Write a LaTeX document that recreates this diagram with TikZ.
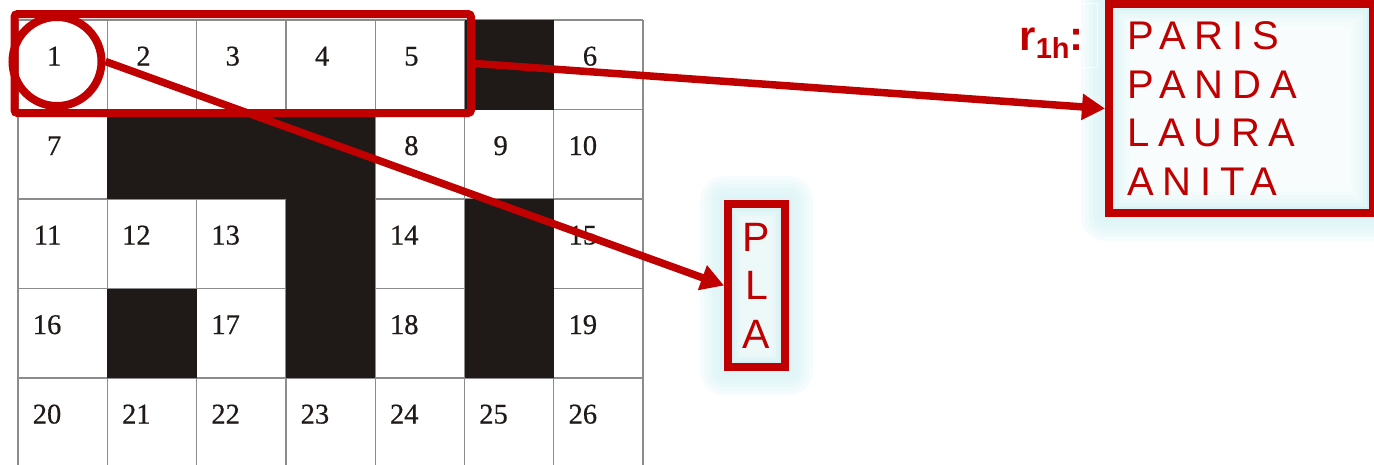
\documentclass[tikz,border=0pt]{standalone}
\usepackage{fontspec}
\setmainfont{Liberation Serif}
\newfontfamily\numfont[FakeBold=0.6]{Liberation Serif}
\newfontfamily\boxfont[LetterSpace=22]{Liberation Sans}
\newfontfamily\plafont{Liberation Sans}
\newfontfamily\labelfont{Liberation Sans}
\usetikzlibrary{arrows.meta,calc,backgrounds}
\definecolor{pzred}{HTML}{C00000}
\definecolor{pzblack}{HTML}{1F1A17}
\definecolor{pzgrid}{HTML}{8C8C8C}
\definecolor{pzglow}{HTML}{D6F1F4}

\begin{document}
\begin{tikzpicture}[
    x=1pt, y=-1pt,
    cellline/.style={draw=pzgrid, line width=1.3pt},
    blackcell/.style={fill=pzblack},
    cellnum/.style={anchor=base east, inner sep=0pt, font=\numfont\fontsize{28.5}{28.5}\selectfont, text=pzblack},
    redframe/.style={draw=pzred, line width=8pt},
    redarrow/.style={draw=pzred, line width=7.5pt, -{Triangle[length=23pt,width=25pt]}},
    wordbox/.style={redframe, inner sep=0pt, text=pzred},
    glowlayer/.style={fill=pzglow, opacity=0.22}
]
  \useasboundingbox (0,0) rectangle (1374,464);
  % grid lines
  \foreach \c in {0,...,7}
    \draw[cellline] (18+89.3*\c, 20) -- (18+89.3*\c, 470);
  \foreach \r in {0,...,5}
    \draw[cellline] (18, 20+89.5*\r) -- (643, 20+89.5*\r);
  % black squares
  \foreach \c/\r in {5/0, 1/1, 2/1, 3/1, 3/2, 5/2, 1/3, 3/3, 5/3}
    \fill[blackcell] (18+89.3*\c, 20+89.5*\r) rectangle +(89.3, 89.5);
  % numbers
  \foreach \n/\c/\r in {1/0/0, 2/1/0, 3/2/0, 4/3/0, 5/4/0, 6/6/0,
      7/0/1, 8/4/1, 9/5/1, 10/6/1,
      11/0/2, 12/1/2, 13/2/2, 14/4/2, 15/6/2,
      16/0/3, 17/2/3, 18/4/3, 19/6/3,
      20/0/4, 21/1/4, 22/2/4, 23/3/4, 24/4/4, 25/5/4, 26/6/4}
    \node[cellnum] (num\n) at (18+89.3*\c+43.5, 20+89.5*\r+45.5) {\n};
  % selection marks
  \node[redframe, rounded corners=3pt, minimum width=456.5pt, minimum height=99pt] (rowbox) at (242.75, 63.5) {};
  \node[redframe, circle, minimum size=89pt] (cellring) at (57, 61.5) {};
  % answer boxes
  \node[wordbox, minimum width=57pt, minimum height=163pt, align=center,
        font=\plafont\fontsize{41}{48.5}\selectfont] (plabox) at (756.5, 285.5) {P\\L\\A};
  \node[wordbox, minimum width=264pt, minimum height=209pt, inner xsep=18pt, text width=228pt, align=left,
        font=\boxfont\fontsize{40}{48.5}\selectfont] (wordlist) at (1241, 108.5) {PARIS\\PANDA\\LAURA\\ANITA};
  % glow
  \begin{scope}[on background layer]
    \foreach \b in {plabox, wordlist} {
      \foreach \g in {4,8,...,24}
        \fill[glowlayer, rounded corners=\g pt] ($(\b.north west)+(-\g,-\g)$) rectangle ($(\b.south east)+(\g,\g)$);
      \fill[pzglow] (\b.north west) rectangle (\b.south east);
    }
    \foreach \g in {10,14,...,30}
      \fill[white, opacity=0.3] ($(wordlist.north west)+(\g,\g)$) rectangle ($(wordlist.south east)+(-\g,-\g)$);
    \foreach \g in {10,13,16}
      \fill[white, opacity=0.25] ($(plabox.north west)+(\g,\g)$) rectangle ($(plabox.south east)+(-\g,-\g)$);
  \end{scope}
  % label
  \node[anchor=base west, inner xsep=14pt, inner ysep=0pt, text height=47pt, text depth=17pt, draw=white, line width=1pt,
        text=pzred, font=\labelfont\bfseries\fontsize{42}{42}\selectfont] (rlabel) at (1005, 50)
        {r\raisebox{-8pt}{\fontsize{29}{29}\selectfont 1h}:};
  % arrows
  \draw[redarrow] (cellring.east) -- (plabox.west);
  \draw[redarrow] (rowbox.east) -- (wordlist.west);
\end{tikzpicture}
\end{document}
